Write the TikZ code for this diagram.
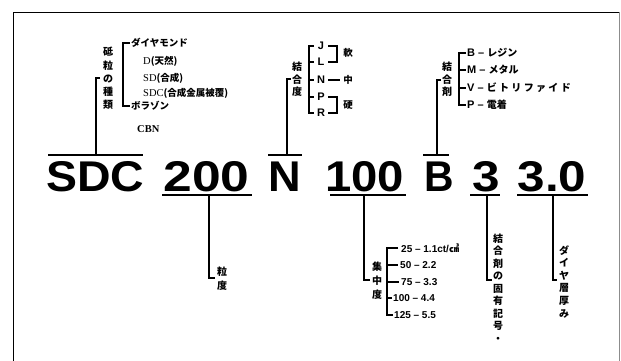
\documentclass[tikz,border=0pt]{standalone}
\usepackage{fontspec}
\setmainfont{Liberation Serif}
\setsansfont{Liberation Sans}
\newfontfamily\jp{Noto Sans CJK JP}
\tikzset{
  tok/.style={font=\sffamily\bfseries\fontsize{43}{43}\selectfont, inner sep=0, anchor=base},
  jv/.style={font=\jp\bfseries\fontsize{10}{#1}\selectfont, align=center, inner sep=0},
  jt/.style={font=\jp\bfseries\fontsize{9.5}{12}\selectfont, inner sep=0},
  lt/.style={font=\sffamily\bfseries\fontsize{11}{12}\selectfont, inner sep=0},
  ct/.style={font=\sffamily\bfseries\fontsize{10}{12}\selectfont, inner sep=0, anchor=west},
  stem/.style={line width=1.7pt},
  bar/.style={line width=1.1pt},
  brk/.style={line width=1.3pt},
}
\begin{document}
\begin{tikzpicture}[x=1pt,y=-1pt]
\useasboundingbox (0,0) rectangle (621,361);
% frame
\draw[line width=0.9pt] (13,361) -- (13,12) -- (620,12);
\draw[line width=0.9pt, black!45] (619.5,12) -- (619.5,361);

% main code
\node[tok] (sdc) at (95.5,191) {\scalebox{1.08}[1]{SDC}};
\node[tok] (g200) at (206.5,191) {\scalebox{1.2}[1]{200}};
\node[tok] (nn) at (285,191) {\scalebox{1.05}[1]{N}};
\node[tok] (c100) at (364.5,191) {\scalebox{1.1}[1]{100}};
\node[tok] (bb) at (439,191) {\scalebox{0.95}[1]{B}};
\node[tok] (t3) at (486,191) {\scalebox{1.15}[1]{3}};
\node[tok] (t30) at (552,191) {\scalebox{1.15}[1]{3.0}};

% ---- abrasive type (SDC)
\coordinate (sdcL) at (48,155); \coordinate (sdcR) at (143,155);
\coordinate (sdcS) at (96,155); \coordinate (sdcT) at (96,78); \coordinate (sdcK) at (100,78);
\draw[bar] (sdcL) -- (sdcR);
\draw[stem] (sdcS) -- (sdcT) -- (sdcK);
\node[jv=13.25] (lab1) at (108,78.5) {砥\\粒\\の\\種\\類};
\coordinate (b1t) at (123,43); \coordinate (b1b) at (123,106);
\coordinate (b1tk) at (130,43); \coordinate (b1bk) at (130,106);
\draw[brk] (b1tk) -- (b1t) -- (b1b) -- (b1bk);
\node[jt, anchor=west] (dia) at (131,43) {ダイヤモンド};
\node[anchor=west, inner sep=0] (dn) at (143,61) {\fontsize{10.5}{12}\selectfont D{\jp\bfseries\fontsize{9.5}{12}\selectfont (天然)}};
\node[anchor=west, inner sep=0] (sd) at (143,78) {\fontsize{10.5}{12}\selectfont SD{\jp\bfseries\fontsize{9.5}{12}\selectfont (合成)}};
\node[anchor=west, inner sep=0] (sdc2) at (143,93.5) {\fontsize{10.5}{12}\selectfont SDC{\jp\bfseries\fontsize{9.5}{12}\selectfont (合成金属被覆)}};
\node[jt, anchor=west] (bor) at (131,106) {ボラゾン};
\node[anchor=west, inner sep=0, font=\bfseries\fontsize{10.5}{12}\selectfont] (cbn) at (137,129) {CBN};

% ---- grain size (200)
\coordinate (gL) at (162,195); \coordinate (gR) at (252,195);
\coordinate (gS) at (209,195); \coordinate (gT) at (209,278); \coordinate (gK) at (215,278);
\draw[bar] (gL) -- (gR);
\draw[stem] (gS) -- (gT) -- (gK);
\node[jv=14] (lab2) at (222,279) {粒\\度};

% ---- bond grade (N)
\coordinate (nL) at (268,155); \coordinate (nR) at (302,155);
\coordinate (nS) at (287,155); \coordinate (nT) at (287,79); \coordinate (nK) at (291,79);
\draw[bar] (nL) -- (nR);
\draw[stem] (nS) -- (nT) -- (nK);
\node[jv=12.5] (lab3) at (297,79.5) {結\\合\\度};
\coordinate (b3t) at (309,46); \coordinate (b3b) at (309,113);
\draw[brk] (314,46) -- (b3t) -- (b3b) -- (314,113);
\draw[brk] (309,62) -- (314,62);
\draw[brk] (309,80) -- (314,80);
\draw[brk] (309,97) -- (314,97);
\node[lt] (gJ) at (321,46) {J};
\node[lt] (gL2) at (321,62) {L};
\node[lt] (gN) at (321,80) {N};
\node[lt] (gP) at (321,97) {P};
\node[lt] (gR2) at (321,113) {R};
\draw[brk] (328,46) -- (337,46) -- (337,62) -- (328,62);
\draw[brk] (328,97) -- (337,97) -- (337,113) -- (328,113);
\draw[brk] (328,80) -- (340,80);
\node[jt] (soft) at (348,53) {軟};
\node[jt] (mid) at (348,80) {中};
\node[jt] (hard) at (348,105) {硬};

% ---- concentration (100)
\coordinate (cL) at (330,195); \coordinate (cR) at (406,195);
\coordinate (cS) at (364,195); \coordinate (cT) at (364,280); \coordinate (cK) at (370,280);
\draw[bar] (cL) -- (cR);
\draw[stem] (cS) -- (cT) -- (cK);
\node[jv=14] (lab4) at (377,281) {集\\中\\度};
\draw[brk] (398,248) -- (387,248) -- (387,315) -- (393,315);
\draw[brk] (387,265) -- (398,265);
\draw[brk] (387,282) -- (399,282);
\draw[brk] (387,298) -- (392,298);
\node[ct] (k25) at (401,248) {25 – 1.1ct/{\jp ㎤}};
\node[ct] (k50) at (400,265) {50 – 2.2};
\node[ct] (k75) at (401,282) {75 – 3.3};
\node[ct] (k100) at (393,298) {100 – 4.4};
\node[ct] (k125) at (394,315) {125 – 5.5};

% ---- bond type (B)
\coordinate (bL) at (423,155); \coordinate (bR) at (449,155);
\coordinate (bS) at (437,155); \coordinate (bT) at (437,80); \coordinate (bK) at (441,80);
\draw[bar] (bL) -- (bR);
\draw[stem] (bS) -- (bT) -- (bK);
\node[jv=12.5] (lab5) at (447,79.5) {結\\合\\剤};
\draw[brk] (466,53) -- (459,53) -- (459,105) -- (466,105);
\draw[brk] (459,70) -- (466,70);
\draw[brk] (459,88) -- (466,88);
\node[lt, anchor=west] (tB) at (467,53) {B – {\jp\fontsize{10}{12}\selectfont レジン}};
\node[lt, anchor=west] (tM) at (467,70) {M – {\jp\fontsize{10}{12}\selectfont メタル}};
\node[lt, anchor=west] (tV) at (467,88) {V – {\jp\fontsize{10}{12}\selectfont \hbox to 84pt{ビ\hfil ト\hfil リ\hfil フ\hfil ァ\hfil イ\hfil ド}}};
\node[lt, anchor=west] (tP) at (467,105) {P – {\jp\fontsize{10}{12}\selectfont 電着}};

% ---- bond symbol (3)
\coordinate (sL) at (470,195); \coordinate (sR) at (500,195);
\coordinate (sS) at (487,195); \coordinate (sT) at (487,280); \coordinate (sK) at (492,280);
\draw[bar] (sL) -- (sR);
\draw[stem] (sS) -- (sT) -- (sK);
\node[jv=12.5] (lab6) at (498,288) {結\\合\\剤\\の\\固\\有\\記\\号\\・};

% ---- layer thickness (3.0)
\coordinate (hL) at (517,195); \coordinate (hR) at (588,195);
\coordinate (hS) at (553,195); \coordinate (hT) at (553,280); \coordinate (hK) at (557,280);
\draw[bar] (hL) -- (hR);
\draw[stem] (hS) -- (hT) -- (hK);
\node[jv=12.6] (lab7) at (564,281.5) {ダ\\イ\\ヤ\\層\\厚\\み};
\end{tikzpicture}
\end{document}
